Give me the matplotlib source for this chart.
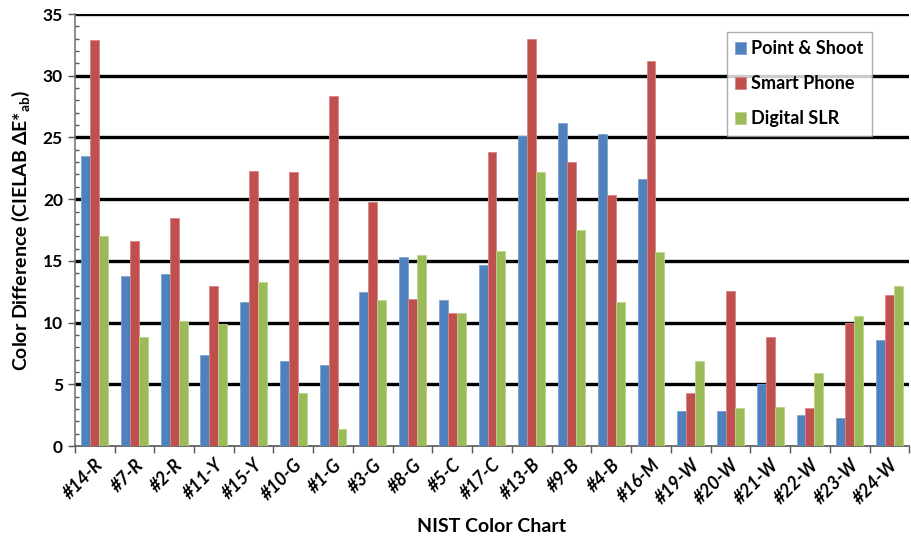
import matplotlib

matplotlib.use("Agg")
import matplotlib.pyplot as plt
import numpy as np

# ---------------------------------------------------------------------------
# Data
# ---------------------------------------------------------------------------
patches = [
    "#14-R", "#7-R", "#2-R", "#11-Y", "#15-Y", "#10-G", "#1-G", "#3-G", "#8-G",
    "#5-C", "#17-C", "#13-B", "#9-B", "#4-B", "#16-M", "#19-W", "#20-W",
    "#21-W", "#22-W", "#23-W", "#24-W",
]
point_shoot = [23.5, 13.8, 13.9, 7.4, 11.7, 6.9, 6.6, 12.5, 15.3, 11.8, 14.7,
               25.1, 26.2, 25.3, 21.6, 2.8, 2.8, 5.0, 2.5, 2.3, 8.6]
smart_phone = [32.9, 16.6, 18.5, 13.0, 22.3, 22.2, 28.4, 19.8, 11.9, 10.8, 23.8,
               33.0, 23.0, 20.3, 31.2, 4.3, 12.6, 8.8, 3.1, 10.0, 12.2]
digital_slr = [17.0, 8.8, 10.1, 9.9, 13.3, 4.3, 1.4, 11.8, 15.5, 10.8, 15.8,
               22.2, 17.5, 11.7, 15.7, 6.9, 3.1, 3.2, 5.9, 10.5, 13.0]
series_names = ["Point & Shoot", "Smart Phone", "Digital SLR"]
y_ticks = [0, 5, 10, 15, 20, 25, 30, 35]

COLORS = ["#4F81BD", "#C0504D", "#9BBB59"]
EDGES = ["#7FA3D3", "#D98583", "#BCD48E"]

plt.rcParams["font.family"] = ["Lato", "DejaVu Sans"]
plt.rcParams["mathtext.fontset"] = "custom"
plt.rcParams["mathtext.rm"] = "Lato:bold"
plt.rcParams["mathtext.bf"] = "Lato:bold"

fig = plt.figure(figsize=(9.12, 5.4), dpi=100)
ax = fig.add_axes([0.082, 0.174, 0.915, 0.8])

x = np.arange(len(patches))
width = 0.225
for i, (vals, name) in enumerate(zip([point_shoot, smart_phone, digital_slr], series_names)):
    ax.bar(x + (i - 1) * width, vals, width, color=COLORS[i], edgecolor=EDGES[i],
           linewidth=0.6, label=name, zorder=3)

ax.set_xlim(-0.5, len(patches) - 0.5)
ax.set_ylim(0, 35)

# gridlines
for yv in y_ticks[1:]:
    ax.axhline(yv, color="black", linewidth=2.4, zorder=2)

ax.set_yticks(y_ticks)
ax.set_yticks(np.arange(0, 36, 1), minor=True)
ax.set_yticklabels([str(v) for v in y_ticks], fontsize=12.5, fontweight="bold")
ax.tick_params(axis="y", which="major", direction="out", length=5, width=1, color="#555")
ax.tick_params(axis="y", which="minor", direction="in", length=3, width=1, color="#555")

ax.set_xticks(x)
ax.set_xticklabels(patches, rotation=45, ha="right", rotation_mode="anchor",
                   fontsize=13, fontweight="bold", fontstyle="italic")
ax.set_xticks(np.arange(-0.5, len(patches), 1), minor=True)
ax.tick_params(axis="x", which="major", length=0, pad=7)
ax.tick_params(axis="x", which="minor", direction="out", length=5, width=1, color="#555")

for side in ("top", "right"):
    ax.spines[side].set_visible(False)
ax.spines["left"].set_color("#777")
ax.spines["bottom"].set_color("#555")
ax.spines["left"].set_linewidth(1.2)
ax.spines["bottom"].set_linewidth(1.2)

ax.set_ylabel("Color Difference (CIELAB \u0394E*$_{\\mathrm{ab}}$)", fontsize=14,
              fontweight="bold", labelpad=8)
ax.set_xlabel("NIST Color Chart", fontsize=14, fontweight="bold", labelpad=8)

leg = ax.legend(loc="upper right", bbox_to_anchor=(0.955, 0.958), borderaxespad=0,
                prop={"weight": "bold", "size": 13}, frameon=True, fancybox=False,
                handlelength=0.6, handleheight=0.6, handletextpad=0.3,
                labelspacing=1.0, borderpad=0.45)
leg.get_frame().set_edgecolor("#999")
leg.get_frame().set_linewidth(1.0)
leg.set_zorder(5)

fig.savefig("out.png", dpi=100)
